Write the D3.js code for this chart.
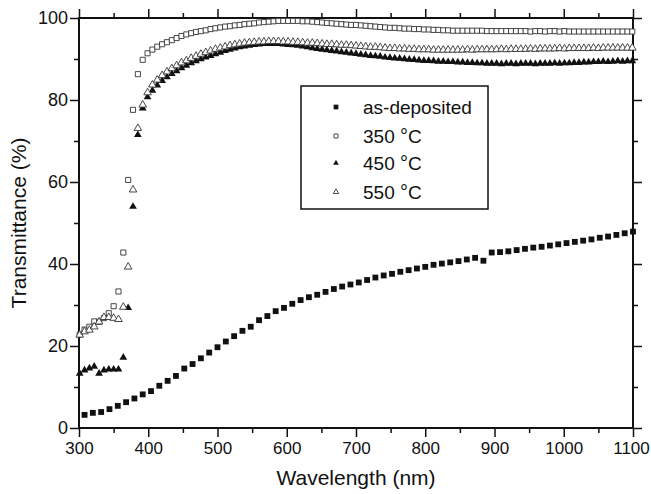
<!DOCTYPE html>
<html>
<head>
<meta charset="utf-8">
<script src="https://d3js.org/d3.v7.min.js"></script>
<style>
body { margin: 0; background: #fff; }
text { font-family: Arial, "Liberation Sans", sans-serif; fill: #111; }
</style>
</head>
<body>
<script>
// as-deposited film, sampled every 12 nm
var wlCoarse = [308,320,332,344,356,368,380,392,404,416,428,440,452,464,476,488,500,512,524,536,
  548,560,572,584,596,608,620,632,644,656,668,680,692,704,716,728,740,752,764,776,
  788,800,812,824,836,848,860,872,884,896,908,920,932,944,956,968,980,992,1004,1016,
  1028,1040,1052,1064,1076,1088,1100];
var asDeposited = [3.2,3.7,3.9,4.6,5.4,6.3,7.2,8.2,9.0,10.3,11.5,12.7,14.5,15.6,17.0,18.4,19.7,21.1,22.4,23.7,
  24.7,26.3,27.3,28.5,29.3,30.3,31.2,31.9,32.5,33.2,33.9,34.5,35.0,35.5,36.1,36.7,37.2,37.6,38.1,38.5,
  38.9,39.3,39.8,40.1,40.4,40.7,41.1,41.5,40.8,42.8,42.9,43.1,43.4,43.7,44.0,44.2,44.5,44.8,45.1,45.4,
  45.7,46.0,46.4,46.7,47.1,47.5,47.9];

// annealed films, sampled every 7 nm
var wlFine = [301,308,315,322,329,336,343,350,357,364,371,378,385,392,399,406,413,420,427,434,
  441,448,455,462,469,476,483,490,497,504,511,518,525,532,539,546,553,560,567,574,
  581,588,595,602,609,616,623,630,637,644,651,658,665,672,679,686,693,700,707,714,
  721,728,735,742,749,756,763,770,777,784,791,798,805,812,819,826,833,840,847,854,
  861,868,875,882,889,896,903,910,917,924,931,938,945,952,959,966,973,980,987,994,
  1001,1008,1015,1022,1029,1036,1043,1050,1057,1064,1071,1078,1085,1092,1099];
var t350 = [22.8,24.0,24.7,26.0,25.9,26.8,28.0,29.7,33.3,42.8,60.5,77.6,86.3,89.8,91.4,92.3,93.0,93.6,94.1,94.6,
  95.1,95.6,96.0,96.3,96.6,96.8,97.0,97.3,97.5,97.7,97.9,98.0,98.2,98.3,98.5,98.6,98.7,98.9,99.0,99.1,
  99.2,99.3,99.3,99.3,99.3,99.3,99.2,99.2,99.1,99.0,98.9,98.8,98.7,98.6,98.5,98.4,98.3,98.3,98.2,98.1,
  98.0,97.9,97.8,97.7,97.6,97.6,97.5,97.4,97.4,97.3,97.3,97.2,97.2,97.1,97.1,97.0,97.0,96.9,96.9,96.9,
  96.9,96.9,96.9,96.9,96.8,96.8,96.8,96.8,96.8,96.8,96.8,96.8,96.8,96.7,96.8,96.8,96.7,96.8,96.8,96.7,
  96.8,96.7,96.7,96.7,96.7,96.7,96.7,96.7,96.7,96.7,96.7,96.7,96.7,96.7,96.7];
var t450 = [13.3,14.1,14.6,15.0,13.3,14.1,14.3,14.3,14.3,17.2,29.3,54.0,71.5,78.0,80.7,82.3,83.6,84.7,85.6,86.4,
  87.1,87.8,88.4,89.0,89.5,90.0,90.4,90.8,91.2,91.6,92.0,92.3,92.6,92.9,93.1,93.3,93.5,93.6,93.7,93.7,
  93.7,93.7,93.6,93.5,93.4,93.3,93.1,92.9,92.7,92.5,92.3,92.2,92.0,91.9,91.7,91.6,91.4,91.3,91.1,91.0,
  90.8,90.7,90.6,90.4,90.3,90.2,90.1,90.0,89.9,89.8,89.7,89.6,89.6,89.5,89.4,89.4,89.3,89.3,89.2,89.2,
  89.1,89.1,89.0,89.0,88.9,88.9,88.9,88.8,88.9,88.9,88.8,88.9,88.9,88.9,88.8,88.9,88.9,88.9,89.0,88.9,
  89.0,89.0,89.1,89.1,89.2,89.2,89.3,89.3,89.4,89.3,89.4,89.5,89.4,89.5,89.5];
var t550 = [22.7,23.5,23.9,24.7,25.9,27.0,27.0,26.8,26.5,29.5,39.3,58.1,73.1,78.8,81.8,83.7,84.9,86.0,86.9,87.7,
  88.4,89.1,89.6,90.2,90.7,91.2,91.6,92.0,92.4,92.7,93.0,93.3,93.5,93.7,93.9,94.0,94.1,94.2,94.2,94.3,
  94.3,94.3,94.2,94.2,94.1,94.1,94.0,93.9,93.9,93.8,93.7,93.6,93.6,93.5,93.4,93.4,93.3,93.2,93.1,93.0,
  92.9,92.9,92.8,92.7,92.6,92.6,92.5,92.5,92.4,92.4,92.3,92.3,92.3,92.2,92.2,92.2,92.2,92.2,92.2,92.2,
  92.3,92.2,92.3,92.3,92.3,92.3,92.3,92.4,92.3,92.4,92.4,92.4,92.4,92.5,92.4,92.5,92.5,92.5,92.5,92.6,
  92.5,92.6,92.6,92.6,92.6,92.6,92.7,92.6,92.7,92.7,92.7,92.7,92.7,92.7,92.7];

var seriesNames = ["as-deposited", "350", "450", "550"];
var xMajor = [300,400,500,600,700,800,900,1000,1100];
var xMinor = [350,450,550,650,750,850,950,1050];
var yMajor = [0,20,40,60,80,100];
var yMinor = [10,30,50,70,90];

var W = 651, H = 494;
var margin = {top: 18, right: 18, bottom: 66, left: 79};
var width = W - margin.left - margin.right;
var height = H - margin.top - margin.bottom;

var x = d3.scaleLinear().domain([300, 1100]).range([0, width]);
var y = d3.scaleLinear().domain([0, 100]).range([height, 0]);

var svg = d3.select("body").append("svg")
    .attr("width", W)
    .attr("height", H);
var g = svg.append("g")
    .attr("transform", "translate(" + margin.left + "," + margin.top + ")");

function styleAxis(sel, fontSize) {
  sel.select(".domain").remove();
  sel.selectAll(".tick line").attr("stroke", "#111").attr("stroke-width", 1.5);
  sel.selectAll(".tick text").attr("font-size", fontSize).attr("fill", "#111")
     .attr("font-family", "Arial, 'Liberation Sans', sans-serif");
}

// major ticks with labels
var xAxisG = g.append("g").attr("transform", "translate(0," + height + ")")
  .call(d3.axisBottom(x).tickValues(xMajor).tickSize(9).tickPadding(5).tickFormat(d3.format("d")))
  .call(styleAxis, 17);
// keep the last label inside the picture
xAxisG.selectAll(".tick text").filter(function(d) { return d === 1100; }).attr("dx", -2);
g.append("g")
  .call(d3.axisLeft(y).tickValues(yMajor).tickSize(9).tickPadding(2))
  .call(styleAxis, 18);
// mirrored ticks without labels
g.append("g").call(d3.axisTop(x).tickValues(xMajor).tickSize(9).tickFormat("")).call(styleAxis, 0);
g.append("g").attr("transform", "translate(" + width + ",0)")
  .call(d3.axisRight(y).tickValues(yMajor).tickSize(9).tickFormat("")).call(styleAxis, 0);
// minor ticks
g.append("g").attr("transform", "translate(0," + height + ")")
  .call(d3.axisBottom(x).tickValues(xMinor).tickSize(5).tickFormat("")).call(styleAxis, 0);
g.append("g").call(d3.axisTop(x).tickValues(xMinor).tickSize(5).tickFormat("")).call(styleAxis, 0);
g.append("g").call(d3.axisLeft(y).tickValues(yMinor).tickSize(5).tickFormat("")).call(styleAxis, 0);
g.append("g").attr("transform", "translate(" + width + ",0)")
  .call(d3.axisRight(y).tickValues(yMinor).tickSize(5).tickFormat("")).call(styleAxis, 0);

// frame
g.append("rect")
  .attr("width", width).attr("height", height)
  .attr("fill", "none").attr("stroke", "#111").attr("stroke-width", 2);

// marker styles
var styles = [
  {type: d3.symbolSquare, size: 34, fill: "#111", stroke: "none", lsize: 22},
  {type: d3.symbolSquare, size: 26, fill: "#fff", stroke: "#333", lsize: 16},
  {type: d3.symbolTriangle, size: 26, fill: "#111", stroke: "none", lsize: 14},
  {type: d3.symbolTriangle, size: 25, fill: "#fff", stroke: "#333", lsize: 13}
];

function zip(xs, ys) {
  return ys.map(function(v, i) { return [xs[i], v]; });
}
var series = [zip(wlCoarse, asDeposited), zip(wlFine, t350), zip(wlFine, t450), zip(wlFine, t550)];

var plot = g.append("g");
series.forEach(function(data, k) {
  var st = styles[k];
  plot.append("g").selectAll("path")
    .data(data)
    .enter().append("path")
    .attr("d", d3.symbol().type(st.type).size(st.size))
    .attr("transform", function(d) { return "translate(" + x(d[0]) + "," + y(d[1]) + ")"; })
    .attr("fill", st.fill)
    .attr("stroke", st.stroke)
    .attr("stroke-width", 0.9);
});

// legend
var legend = svg.append("g").attr("transform", "translate(301,86)");
legend.append("rect")
  .attr("width", 187).attr("height", 123)
  .attr("fill", "#fff").attr("stroke", "#111").attr("stroke-width", 1.5);
var rowY = [21, 50, 77, 106];
seriesNames.forEach(function(name, k) {
  var st = styles[k];
  legend.append("path")
    .attr("d", d3.symbol().type(st.type).size(st.lsize))
    .attr("transform", "translate(35," + rowY[k] + ")")
    .attr("fill", st.fill).attr("stroke", st.stroke).attr("stroke-width", 0.9);
  var t = legend.append("text")
    .attr("x", 62).attr("y", rowY[k]).attr("dy", "0.36em")
    .attr("font-size", 19);
  if (k === 0) {
    t.text(name);
  } else {
    t.append("tspan").text(name + " ");
    t.append("tspan").attr("font-size", 20).text("\u00B0");
    t.append("tspan").text("C");
  }
});

// axis titles
svg.append("text")
  .attr("x", margin.left + width / 2).attr("y", 485)
  .attr("text-anchor", "middle")
  .attr("font-size", 21)
  .text("Wavelength (nm)");
svg.append("text")
  .attr("transform", "translate(26," + (margin.top + height / 2) + ") rotate(-90)")
  .attr("text-anchor", "middle")
  .attr("font-size", 21)
  .text("Transmittance (%)");
</script>
</body>
</html>
